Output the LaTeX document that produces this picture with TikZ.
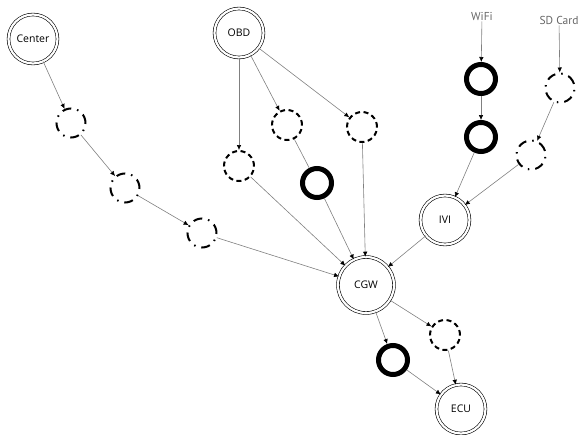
\documentclass[tikz,border=0pt]{standalone}
\usepackage{fontspec}
\setmainfont{Open Sans}
\newfontfamily\labelfont{PT Sans}
\usetikzlibrary{arrows.meta}

\begin{document}
\begin{tikzpicture}[x=1pt,y=-1pt,
  hub/.style={circle, draw, line width=0.6pt, double, double distance=2.2pt, minimum size=49pt, inner sep=0pt, font=\fontsize{10.5}{12}\selectfont},
  ring/.style={circle, draw, line width=5pt, minimum size=29pt, inner sep=0pt},
  dashring/.style={circle, draw, line width=2pt, dash pattern=on 5pt off 3.5pt, minimum size=30pt, inner sep=0pt},
  dotring/.style={circle, draw, line width=2pt, dash pattern=on 9pt off 6pt on 1.5pt off 6pt, minimum size=29pt, inner sep=0pt},
  src/.style={font=\labelfont\fontsize{11.5}{13}\selectfont, text=black!60, inner sep=1pt},
  link/.style={draw=black!50, line width=0.6pt, -{Latex[black,length=5pt,width=4.5pt]}},
  plain/.style={draw=black!50, line width=0.6pt}]
\useasboundingbox (0,0) rectangle (584,434);
\node[hub] (center) at (33,39) {Center};
\node[hub] (obd) at (239,33) {OBD};
\node[hub] (ivi) at (445,220) {IVI};
\node[hub, minimum size=56pt] (cgw) at (366,285) {CGW};
\node[hub] (ecu) at (461,409) {ECU};
\node[src] (wifi) at (482,16) {WiFi};
\node[src] (sdcard) at (559,20) {SD Card};
\node[dotring] (c1) at (71,123) {};
\node[dotring] (c2) at (125,188) {};
\node[dotring] (c3) at (202,233) {};
\node[dashring] (o1) at (239,166) {};
\node[dashring] (o2) at (287,125) {};
\node[dashring] (o3) at (362,127) {};
\node[ring] (o4) at (317,183) {};
\node[ring] (w1) at (481,79) {};
\node[ring] (w2) at (481,137) {};
\node[dotring, rotate=20] (s1) at (560,88) {};
\node[dotring, rotate=20] (s2) at (531,155) {};
\node[dashring] (e1) at (445,335) {};
\node[ring] (e2) at (393,360) {};
\draw[link] (center) -- (c1);
\draw[link] (c1) -- (c2);
\draw[link] (c2) -- (c3);
\draw[link] (c3) -- (cgw);
\draw[link] (obd) -- (o1);
\draw[link] (obd) -- (o2);
\draw[link] (obd) -- (o3);
\draw[link] (o1) -- (cgw);
\draw[plain] (o2) -- (o4);
\draw[link] (o4) -- (cgw);
\draw[link] (o3) -- (cgw);
\draw[link] (wifi) -- (w1);
\draw[link] (w1) -- (w2);
\draw[link] (w2) -- (ivi);
\draw[link] (sdcard) -- (s1);
\draw[link] (s1) -- (s2);
\draw[link] (s2) -- (ivi);
\draw[link] (ivi) -- (cgw);
\draw[link] (cgw) -- (e2);
\draw[link] (cgw) -- (e1);
\draw[link] (e2) -- (ecu);
\draw[link] (e1) -- (ecu);
\end{tikzpicture}
\end{document}
